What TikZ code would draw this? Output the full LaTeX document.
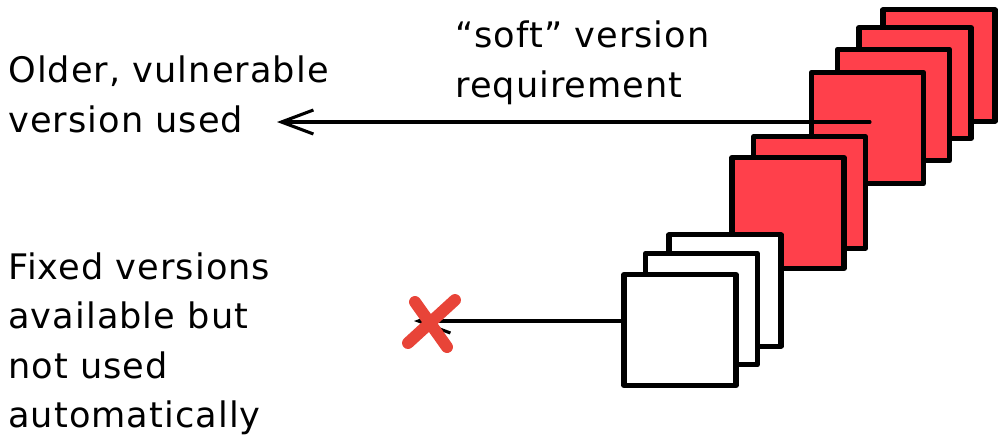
\documentclass[tikz,border=0pt]{standalone}
\usepackage{fontspec}
\setmainfont{DejaVu Sans}[LetterSpace=3]
\usetikzlibrary{arrows.meta}
\definecolor{cardred}{RGB}{255,64,75}
\definecolor{crossred}{RGB}{232,68,56}

\begin{document}
\begin{tikzpicture}[x=0.025cm,y=-0.025cm,
	card/.style={draw=black,line width=3.6pt,line join=round,minimum width=2.8cm,minimum height=2.78cm,inner sep=0pt},
	redcard/.style={card,fill=cardred},
	whitecard/.style={card,fill=white},
	caption/.style={anchor=north west,inner sep=0pt,align=left,font=\fontsize{25}{35.3}\selectfont},
	link/.style={line width=2.2pt,line cap=round}]
	  \useasboundingbox (0,0) rectangle (1006,443);
	  % red cards, back to front
	  \node[redcard] (r1) at (939,65.5) {};
	  \node[redcard] (r2) at (915,83) {};
	  \node[redcard] (r3) at (893.5,105) {};
	  \node[redcard] (r4) at (867.5,128) {};
	  \node[redcard] (r5) at (809.5,192.5) {};
	  \node[redcard] (r6) at (788,213) {};
	  % white cards
	  \node[whitecard] (w1) at (725,290.5) {};
	  \node[whitecard] (w2) at (701.5,309) {};
	  \node[whitecard] (w3) at (680,330) {};
	  % texts
	  \node[caption] (older) at (8,56) {Older, vulnerable\\version used};
	  \node[caption] (soft) at (455,21) {“soft” version\\requirement};
	  \node[caption] (fixed) at (8,252) {Fixed versions\\available but\\not used\\automatically};
	  % arrows
	  \coordinate (softstart) at (870,122);
	  \coordinate (softend) at (277,122);
	  \draw[link,-{Straight Barb[length=0.8cm,width=0.6cm,line width=2.2pt]}] (softstart) -- (softend);
	  \coordinate (fixedend) at (414,321);
	  \draw[link,-{Straight Barb[length=0.8cm,width=0.6cm,line width=2.2pt]}] (fixedend -| w3.west) -- (fixedend);
	  % the cross
	  \coordinate (xa) at (415,302);
	  \coordinate (xb) at (447,347);
	  \coordinate (xc) at (455,300);
	  \coordinate (xd) at (408,343);
	  \draw[crossred,line width=8.5pt,line cap=round] (xa) -- (xb);
	  \draw[crossred,line width=8.5pt,line cap=round] (xc) -- (xd);
	\end{tikzpicture}
\end{document}
